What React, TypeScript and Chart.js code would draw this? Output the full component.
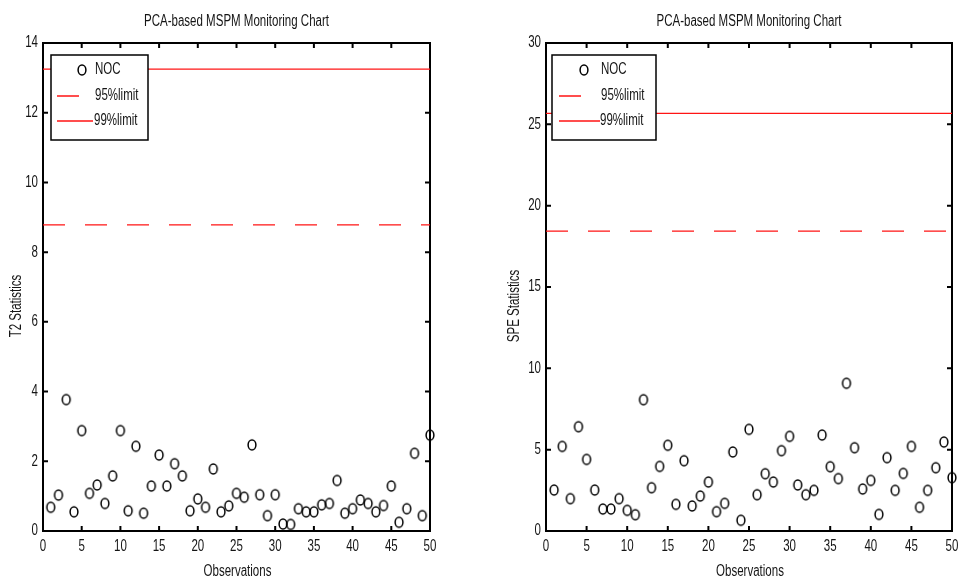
import React, { useEffect, useRef } from "react";
import { Chart, registerables } from "chart.js";
Chart.register(...registerables);

const observations = [
  1, 2, 3, 4, 5, 6, 7, 8, 9, 10, 11, 12, 13, 14, 15, 16, 17, 18, 19, 20, 21, 22, 23, 24, 25,
  26, 27, 28, 29, 30, 31, 32, 33, 34, 35, 36, 37, 38, 39, 40, 41, 42, 43, 44, 45, 46, 47, 48, 49, 50,
];
const t2Values = [
  0.68, 1.03, 3.77, 0.55, 2.88, 1.08, 1.32, 0.79, 1.58, 2.88,
  0.58, 2.43, 0.51, 1.29, 2.18, 1.29, 1.93, 1.58, 0.58, 0.92,
  0.68, 1.78, 0.55, 0.72, 1.08, 0.97, 2.47, 1.04, 0.44, 1.04,
  0.2, 0.19, 0.64, 0.55, 0.55, 0.75, 0.79, 1.45, 0.51, 0.64,
  0.89, 0.79, 0.55, 0.73, 1.29, 0.25, 0.64, 2.23, 0.44, 2.75,
];
const speValues = [
  2.52, 5.2, 1.99, 6.41, 4.4, 2.52, 1.35, 1.35, 1.99, 1.27,
  1.0, 8.07, 2.66, 3.97, 5.27, 1.64, 4.32, 1.54, 2.15, 3.01,
  1.19, 1.7, 4.86, 0.66, 6.25, 2.23, 3.52, 3.01, 4.94, 5.82,
  2.83, 2.23, 2.5, 5.9, 3.95, 3.22, 9.08, 5.12, 2.58, 3.11,
  1.02, 4.51, 2.5, 3.54, 5.2, 1.46, 2.5, 3.89, 5.47, 3.28,
];
const t2Limit95 = 8.78;
const t2Limit99 = 13.25;
const speLimit95 = 18.44;
const speLimit99 = 25.67;
const xTickValues = [0, 5, 10, 15, 20, 25, 30, 35, 40, 45, 50];
const t2TickValues = [0, 2, 4, 6, 8, 10, 12, 14];
const speTickValues = [0, 5, 10, 15, 20, 25, 30];
const legendLabels = ["NOC", "95%limit", "99%limit"];
const chartTitle = "PCA-based MSPM Monitoring Chart";
const xTitle = "Observations";

const FONT = "'Liberation Sans', Arial, sans-serif";
const FONT_PX = 16;
const SX = 0.72;
const RED = "rgb(255,20,20)";
const TEXT = "#151515";

function makeMarker(): HTMLCanvasElement {
  const c = document.createElement("canvas");
  c.width = 12;
  c.height = 14;
  const ctx = c.getContext("2d")!;
  ctx.strokeStyle = "#000";
  ctx.lineWidth = 1.5;
  ctx.beginPath();
  ctx.ellipse(6, 7, 3.9, 5, 0, 0, Math.PI * 2);
  ctx.stroke();
  return c;
}

function ntext(ctx: CanvasRenderingContext2D, text: string, x: number, y: number, align: CanvasTextAlign, rot = 0) {
  ctx.save();
  ctx.translate(x, y);
  if (rot) ctx.rotate(rot);
  ctx.scale(SX, 1);
  ctx.font = `${FONT_PX}px ${FONT}`;
  ctx.fillStyle = TEXT;
  ctx.textAlign = align;
  ctx.textBaseline = "middle";
  ctx.fillText(text, 0, 0);
  ctx.restore();
}

type Cfg = {
  values: number[];
  lim95: number;
  lim99: number;
  yTicks: number[];
  yTitle: string;
  width: number;
  padLeft: number;
  padRight: number;
  yTitleX: number;
  legend: { x: number; w: number; markX: number; textX: number; lineX0: number; lineX1: number; line99X1: number };
};

function MonitorChart({ cfg }: { cfg: Cfg }) {
  const ref = useRef<HTMLCanvasElement | null>(null);
  useEffect(() => {
    const canvas = ref.current!;
    const marker = makeMarker();
    const yMax = cfg.yTicks[cfg.yTicks.length - 1];
    const xMax = xTickValues[xTickValues.length - 1];
    const deco = {
      id: "deco",
      beforeDatasetsDraw(chart: any) {
        const { ctx, chartArea: a } = chart;
        const xs = chart.scales.x;
        const ys = chart.scales.y;
        ctx.save();
        ctx.strokeStyle = "#000";
        ctx.lineWidth = 2;
        ctx.strokeRect(a.left, a.top, a.right - a.left, a.bottom - a.top);
        for (const v of xTickValues) {
          const px = xs.getPixelForValue(v);
          ctx.beginPath();
          ctx.moveTo(px, a.bottom);
          ctx.lineTo(px, a.bottom - 5);
          ctx.moveTo(px, a.top);
          ctx.lineTo(px, a.top + 5);
          ctx.stroke();
          ntext(ctx, String(v), px, a.bottom + 16, "center");
        }
        for (const v of cfg.yTicks) {
          const py = ys.getPixelForValue(v);
          ctx.beginPath();
          ctx.moveTo(a.left, py);
          ctx.lineTo(a.left + 5, py);
          ctx.moveTo(a.right, py);
          ctx.lineTo(a.right - 5, py);
          ctx.stroke();
          ntext(ctx, String(v), a.left - 5, py, "right");
        }
        ntext(ctx, xTitle, (a.left + a.right) / 2 + 1, 572, "center");
        ntext(ctx, cfg.yTitle, cfg.yTitleX, 306, "center", -Math.PI / 2);
        ntext(ctx, chartTitle, (a.left + a.right) / 2, 22, "center");
        ctx.restore();
      },
      afterDatasetsDraw(chart: any) {
        const { ctx, chartArea: a } = chart;
        const L = cfg.legend;
        const bx = a.left + L.x;
        const by = a.top + 12;
        const bh = 85;
        ctx.save();
        ctx.fillStyle = "#fff";
        ctx.fillRect(bx, by, L.w, bh);
        ctx.strokeStyle = "#000";
        ctx.lineWidth = 1.5;
        ctx.strokeRect(bx, by, L.w, bh);
        const rows = [by + 15, by + 41, by + 66];
        ctx.drawImage(marker, bx + L.markX - 6, rows[0] - 7);
        ctx.strokeStyle = RED;
        ctx.lineWidth = 1.3;
        ctx.beginPath();
        ctx.moveTo(bx + L.lineX0, rows[1]);
        ctx.lineTo(bx + L.lineX1, rows[1]);
        ctx.moveTo(bx + L.lineX0, rows[2]);
        ctx.lineTo(bx + L.line99X1, rows[2]);
        ctx.stroke();
        ntext(ctx, legendLabels[0], bx + L.textX, rows[0], "left");
        ntext(ctx, legendLabels[1], bx + L.textX, rows[1], "left");
        ntext(ctx, legendLabels[2], bx + L.textX - 1, rows[2], "left");
        ctx.restore();
      },
    };
    const chart = new Chart(canvas, {
      type: "scatter",
      data: {
        datasets: [
          {
            label: legendLabels[0],
            data: observations.map((x, i) => ({ x, y: cfg.values[i] })),
            pointStyle: marker as any,
            pointRadius: 5,
            showLine: false,
            clip: false as any,
            order: 0,
          },
          {
            label: legendLabels[1],
            type: "line" as any,
            data: [
              { x: 0, y: cfg.lim95 },
              { x: xMax, y: cfg.lim95 },
            ],
            borderColor: RED,
            borderWidth: 1.3,
            borderDash: [22, 20],
            pointRadius: 0,
            showLine: true,
            order: 2,
          },
          {
            label: legendLabels[2],
            type: "line" as any,
            data: [
              { x: 0, y: cfg.lim99 },
              { x: xMax, y: cfg.lim99 },
            ],
            borderColor: RED,
            borderWidth: 1.3,
            pointRadius: 0,
            showLine: true,
            order: 1,
          },
        ],
      },
      options: {
        responsive: false,
        animation: false,
        events: [],
        layout: { padding: { left: cfg.padLeft, top: 43, right: cfg.padRight, bottom: 49 } },
        plugins: { legend: { display: false }, tooltip: { enabled: false }, title: { display: false } },
        scales: {
          x: {
            type: "linear",
            min: 0,
            max: xMax,
            afterBuildTicks: (s: any) => {
              s.ticks = xTickValues.map((v) => ({ value: v }));
            },
            afterFit: (s: any) => {
              s.height = 0;
            },
            grid: { display: false, drawTicks: false },
            border: { display: false },
            ticks: { display: false },
          },
          y: {
            type: "linear",
            min: 0,
            max: yMax,
            afterBuildTicks: (s: any) => {
              s.ticks = cfg.yTicks.map((v) => ({ value: v }));
            },
            afterFit: (s: any) => {
              s.width = 0;
            },
            grid: { display: false, drawTicks: false },
            border: { display: false },
            ticks: { display: false },
          },
        },
      },
      plugins: [deco],
    } as any);
    return () => chart.destroy();
  }, [cfg]);
  return <canvas ref={ref} width={cfg.width} height={580} style={{ display: "block" }} />;
}

const leftCfg: Cfg = {
  values: t2Values,
  lim95: t2Limit95,
  lim99: t2Limit99,
  yTicks: t2TickValues,
  yTitle: "T2 Statistics",
  width: 480,
  padLeft: 43,
  padRight: 50,
  yTitleX: 17,
  legend: { x: 8, w: 97, markX: 31, textX: 44, lineX0: 6, lineX1: 28, line99X1: 42 },
};
const rightCfg: Cfg = {
  values: speValues,
  lim95: speLimit95,
  lim99: speLimit99,
  yTicks: speTickValues,
  yTitle: "SPE Statistics",
  width: 479,
  padLeft: 66,
  padRight: 7,
  yTitleX: 35,
  legend: { x: 6, w: 104, markX: 32, textX: 49, lineX0: 7, lineX1: 29, line99X1: 48 },
};

export default function App() {
  return (
    <div style={{ position: "fixed", left: 0, top: 0, width: 959, height: 580, background: "#fff", overflow: "hidden" }}>
      <div style={{ position: "absolute", left: 0, top: 0 }}>
        <MonitorChart cfg={leftCfg} />
      </div>
      <div style={{ position: "absolute", left: 480, top: 0 }}>
        <MonitorChart cfg={rightCfg} />
      </div>
    </div>
  );
}
